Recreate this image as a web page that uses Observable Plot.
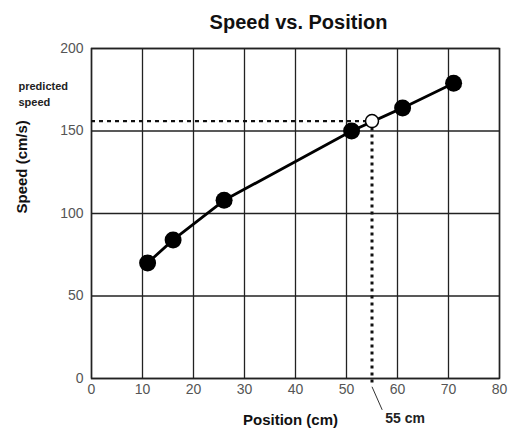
<!DOCTYPE html>
<html><head><meta charset="utf-8">
<script src="https://cdn.jsdelivr.net/npm/d3@7"></script>
<script src="https://cdn.jsdelivr.net/npm/@observablehq/plot@0.6"></script>
<style>
body{margin:0;background:#fff;}
svg{font-family:"Liberation Sans",Arial,sans-serif;}
</style></head>
<body><div id="chart"></div>
<script>
const positions = [11, 16, 26, 51, 61, 71];
const speeds = [70, 84, 108, 150, 164, 179];
const predictedX = 55;
const predictedY = 156;
const xTicks = [0, 10, 20, 30, 40, 50, 60, 70, 80];
const yTicks = [0, 50, 100, 150, 200];

const data = positions.map((x, i) => ({x, y: speeds[i]}));
const pred = [{x: predictedX, y: predictedY}];

const chart = Plot.plot({
  width: 517, height: 432,
  marginLeft: 91, marginRight: 18, marginTop: 48, marginBottom: 54,
  style: {background: "#fff", fontFamily: "Liberation Sans, Arial, sans-serif"},
  x: {domain: [0, 80], ticks: xTicks},
  y: {domain: [0, 200], ticks: yTicks},
  marks: [
    Plot.gridX(xTicks, {stroke: "#222", strokeOpacity: 1, strokeWidth: 1.3}),
    Plot.gridY(yTicks, {stroke: "#222", strokeOpacity: 1, strokeWidth: 1.3}),
    Plot.frame({stroke: "#222", strokeWidth: 1.5}),
    Plot.axisX(xTicks, {tickSize: 0, tickPadding: 6, fontSize: 14, fill: "#555", label: null}),
    Plot.axisY(yTicks, {tickSize: 0, tickPadding: 8, fontSize: 14, fill: "#555", label: null}),
    Plot.ruleY(pred, {y: "y", x1: 0, x2: "x", stroke: "#111", strokeWidth: 2.2, strokeDasharray: "4,4"}),
    Plot.ruleX(pred, {x: "x", y1: "y", y2: -5, stroke: "#111", strokeWidth: 3, strokeDasharray: "3,4"}),
    Plot.link(pred, {x1: "x", y1: -5, x2: d => d.x + 2, y2: -19, stroke: "#333", strokeWidth: 1}),
    Plot.line(data, {x: "x", y: "y", stroke: "#000", strokeWidth: 2.8}),
    Plot.dot(data, {x: "x", y: "y", r: 8.5, fill: "#000"}),
    Plot.dot(pred, {x: "x", y: "y", r: 6.5, fill: "#fff", stroke: "#000", strokeWidth: 1.5}),
    Plot.text(pred, {x: d => d.x + 2, y: -19, text: d => d.x + " cm", textAnchor: "start", dy: 9, dx: 3, fontSize: 14, fontWeight: "bold", fill: "#222"}),
    Plot.text(["Speed vs. Position"], {frameAnchor: "top", dx: 3, dy: -34, fontSize: 20, fontWeight: "bold", fill: "#111"}),
    Plot.text(["Position (cm)"], {frameAnchor: "bottom", dx: -5, dy: 46, fontSize: 15, fontWeight: "bold", fill: "#111"}),
    Plot.text(["Speed (cm/s)"], {frameAnchor: "left", rotate: -90, dx: -69, fontSize: 15, fontWeight: "bold", fill: "#111"}),
    Plot.text(["predicted\nspeed"], {frameAnchor: "top-left", dx: -73, dy: 30, lineHeight: 1.45, fontSize: 11, fontWeight: "bold", fill: "#222", textAnchor: "start"})
  ]
});
document.getElementById("chart").appendChild(chart);
</script></body></html>
